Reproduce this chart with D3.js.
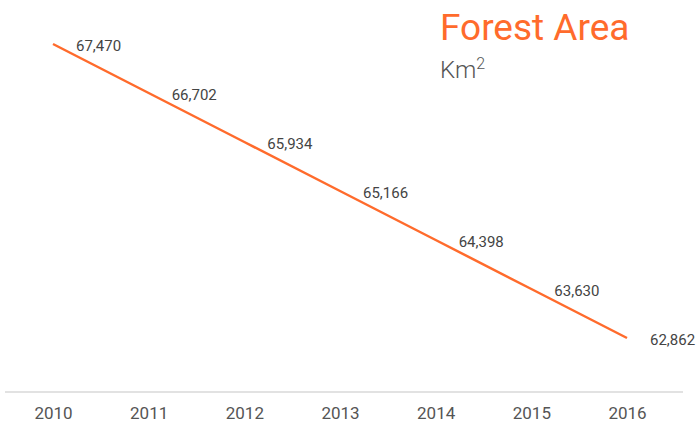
<!DOCTYPE html>
<html>
<head>
<meta charset="utf-8">
<script src="https://cdn.jsdelivr.net/npm/d3@7"></script>
<style>
  body { margin: 0; background: #fff; }
  svg { display: block; font-family: Roboto, "Noto Sans", sans-serif; }
</style>
</head>
<body>
<div id="chart"></div>
<script>
// chart data
const years = ['2010', '2011', '2012', '2013', '2014', '2015', '2016'];
const forestArea = [67470, 66702, 65934, 65166, 64398, 63630, 62862];

const width = 696;
const height = 428;
const orange = '#ff6b2c';

const svg = d3.select('#chart')
  .append('svg')
  .attr('width', width)
  .attr('height', height);

// x: point scale over the years
const x = d3.scalePoint()
  .domain(years)
  .range([53, 627]);

// y: linear
const y = d3.scaleLinear()
  .domain([62862, 67470])
  .range([338, 44]);

// baseline
svg.append('line')
  .attr('x1', 5)
  .attr('x2', 683)
  .attr('y1', 392)
  .attr('y2', 392)
  .attr('stroke', '#d9d9d9')
  .attr('stroke-width', 1.5);

// x axis labels
const xAxis = svg.append('g')
  .attr('transform', 'translate(0,392)')
  .call(d3.axisBottom(x).tickSize(0).tickPadding(15));
xAxis.select('.domain').remove();
xAxis.selectAll('text')
  .attr('fill', '#555')
  .style('font-size', '17px')
  .style('font-family', 'Roboto, "Noto Sans", sans-serif');

// line
const line = d3.line()
  .x((d, i) => x(years[i]))
  .y((d) => y(d));

svg.append('path')
  .datum(forestArea)
  .attr('fill', 'none')
  .attr('stroke', orange)
  .attr('stroke-width', 2.5)
  .attr('d', line);

// value labels
svg.selectAll('.value')
  .data(forestArea)
  .enter()
  .append('text')
  .attr('class', 'value')
  .attr('x', (d, i) => x(years[i]) + 23)
  .attr('y', (d) => y(d) + 7)
  .attr('fill', '#444')
  .style('font-size', '15px')
  .text((d) => d3.format(',')(d));

// title
svg.append('text')
  .attr('x', 440)
  .attr('y', 40)
  .attr('fill', orange)
  .style('font-size', '37px')
  .text('Forest Area');

const unit = svg.append('text')
  .attr('x', 440)
  .attr('y', 78)
  .attr('fill', '#555')
  .style('font-size', '24px')
  .style('font-weight', 300);
unit.append('tspan').text('Km');
unit.append('tspan')
  .attr('dy', -9)
  .style('font-size', '16px')
  .text('2');
</script>
</body>
</html>
